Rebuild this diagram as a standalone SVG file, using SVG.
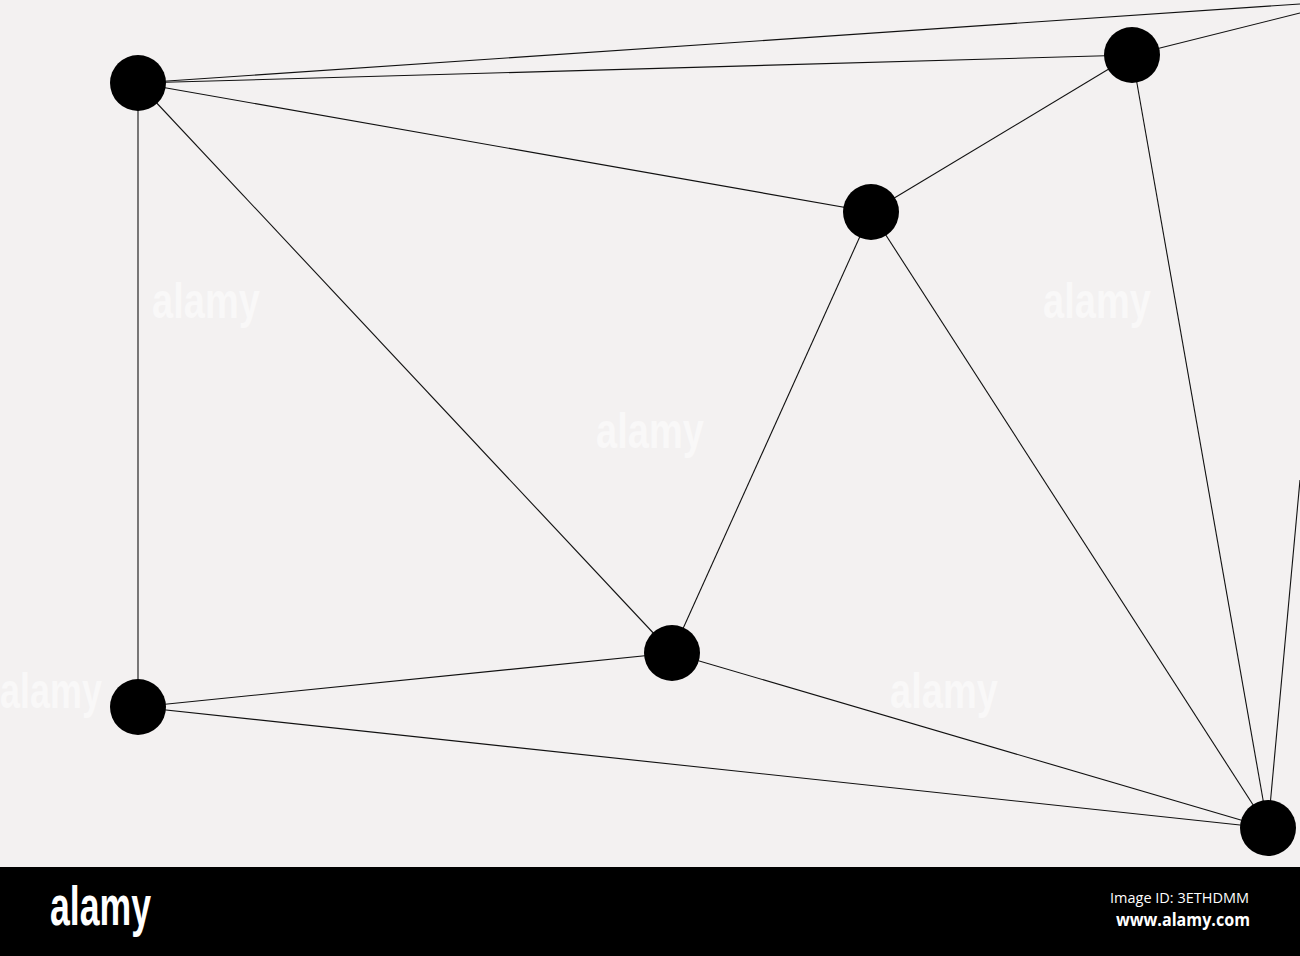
<svg xmlns="http://www.w3.org/2000/svg" width="1300" height="956" viewBox="0 0 1300 956">
<style>
.edge{stroke:#111;stroke-width:1.1;fill:none}
.node{fill:#000}
.wm{fill:#f9f8f8;font-family:"Liberation Sans Narrow","Liberation Sans",sans-serif;font-weight:bold;font-size:50px}
.bar{fill:#fff;font-family:"Open Sans","DejaVu Sans",sans-serif}
</style>
<rect width="1300" height="956" fill="#f3f1f1"/>
<g id="watermarks">
<text class="wm" x="152" y="318" textLength="108" lengthAdjust="spacingAndGlyphs">alamy</text>
<text class="wm" x="596" y="448" textLength="108" lengthAdjust="spacingAndGlyphs">alamy</text>
<text class="wm" x="1043" y="318" textLength="108" lengthAdjust="spacingAndGlyphs">alamy</text>
<text class="wm" x="0" y="708" textLength="102" lengthAdjust="spacingAndGlyphs">alamy</text>
<text class="wm" x="890" y="708" textLength="108" lengthAdjust="spacingAndGlyphs">alamy</text>
</g>
<g id="connectors">
<line class="edge" x1="138" y1="83" x2="1300" y2="4"/>
<line class="edge" x1="1132" y1="55" x2="1300" y2="13"/>
<line class="edge" x1="138" y1="83" x2="1132" y2="55"/>
<line class="edge" x1="138" y1="83" x2="871" y2="212"/>
<line class="edge" x1="138" y1="83" x2="672" y2="653"/>
<line class="edge" x1="138" y1="83" x2="138" y2="707"/>
<line class="edge" x1="1132" y1="55" x2="871" y2="212"/>
<line class="edge" x1="1132" y1="55" x2="1268" y2="828"/>
<line class="edge" x1="871" y1="212" x2="672" y2="653"/>
<line class="edge" x1="871" y1="212" x2="1268" y2="828"/>
<line class="edge" x1="672" y1="653" x2="138" y2="707"/>
<line class="edge" x1="672" y1="653" x2="1268" y2="828"/>
<line class="edge" x1="138" y1="707" x2="1268" y2="828"/>
<line class="edge" x1="1268" y1="828" x2="1300" y2="480"/>
</g>
<g id="nodeA"><circle class="node" cx="138" cy="83" r="28"/></g>
<g id="nodeB"><circle class="node" cx="1132" cy="55" r="28"/></g>
<g id="nodeC"><circle class="node" cx="871" cy="212" r="28"/></g>
<g id="nodeD"><circle class="node" cx="672" cy="653" r="28"/></g>
<g id="nodeE"><circle class="node" cx="138" cy="707" r="28"/></g>
<g id="nodeF"><circle class="node" cx="1268" cy="828" r="28"/></g>
<g id="footer">
<rect x="0" y="867" width="1300" height="89" fill="#000"/>
<text x="50" y="925" fill="#fff" font-family="'Liberation Sans Narrow','Liberation Sans',sans-serif" font-weight="bold" font-size="56" textLength="101" lengthAdjust="spacingAndGlyphs">alamy</text>
<text class="bar" x="1110" y="903" font-size="14.5" textLength="139" lengthAdjust="spacingAndGlyphs">Image ID: 3ETHDMM</text>
<text class="bar" x="1116" y="926" font-size="17" font-weight="bold" textLength="134" lengthAdjust="spacingAndGlyphs">www.alamy.com</text>
</g>
</svg>
